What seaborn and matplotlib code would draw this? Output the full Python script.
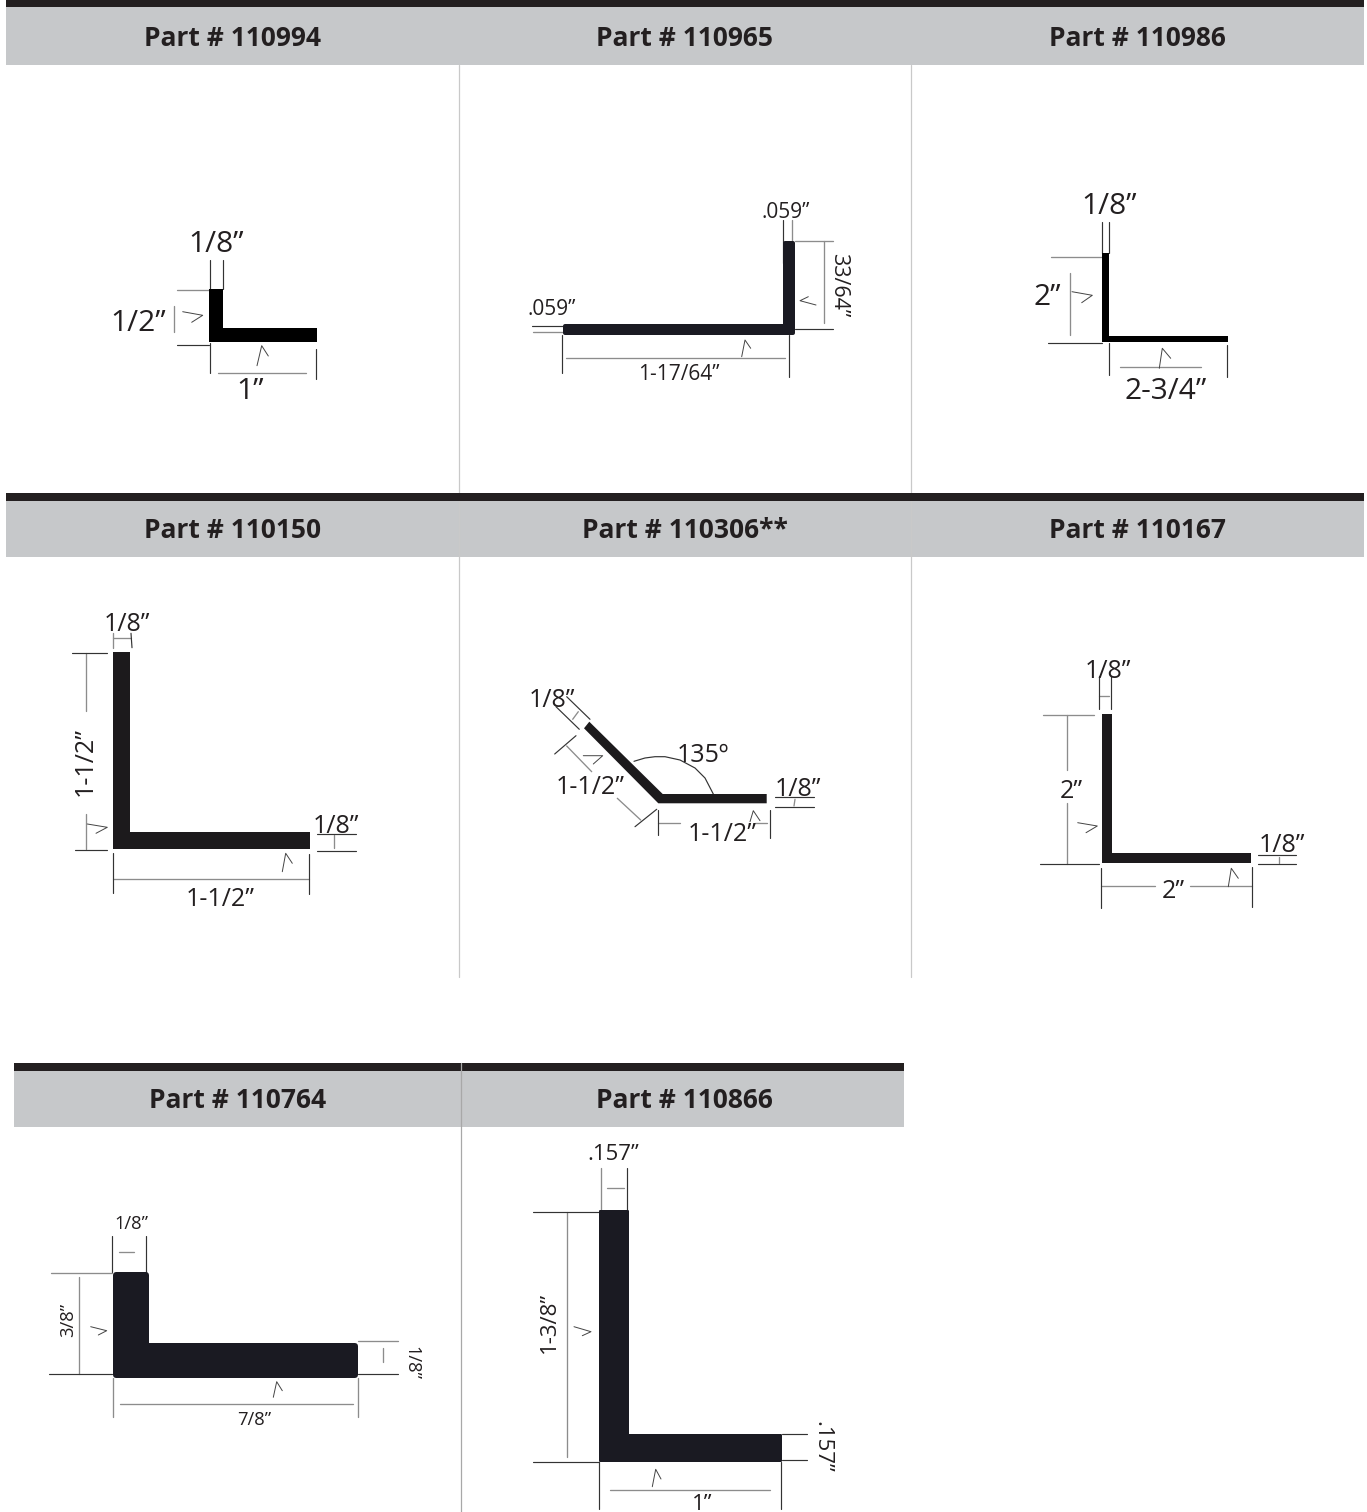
import pandas as pd
import matplotlib
matplotlib.use("Agg")
import matplotlib.pyplot as plt
import seaborn as sns

# ── Header rows ──────────────────────────────────────────
# (part, left, right, text x), per row: bar top, bar bottom, band bottom
ROW_1 = [("Part # 110994", 6, 459, 232.5), ("Part # 110965", 459, 911, 685), ("Part # 110986", 911, 1364, 1137.5)]
ROW_2 = [("Part # 110150", 6, 459, 232.5), ("Part # 110306**", 459, 911, 685), ("Part # 110167", 911, 1364, 1137.5)]
ROW_3 = [("Part # 110764", 14, 460.5, 238), ("Part # 110866", 460.5, 904, 684)]
ROW_LEVELS = [(0, 7, 65), (492.5, 500.5, 556.5), (1062.5, 1070.5, 1127)]
HEADER_TEXT_Y = [35, 527, 1098]
DIVIDERS = [(459, 65, 977), (911, 65, 977), (460.5, 1062.5, 1512)]

# ── Profiles ─────────────────────────────────────────────
PROFILES = {
    "110994": [(209.3, 289.3), (223.3, 289.3), (223.3, 328), (316.7, 328), (316.7, 341.7), (209.3, 341.7)],
    "110986": [(1102.3, 252.7), (1109.3, 252.7), (1109.3, 335.7), (1227.7, 335.7), (1227.7, 342.3), (1102.3, 342.3)],
    "110150": [(113.3, 652.3), (130.3, 652.3), (130.3, 832.3), (310, 832.3), (310, 849), (113.3, 849)],
    "110306": [(589.3, 721.7), (584, 728.3), (658.3, 803.3), (766.7, 803.3), (766.7, 794), (662.7, 794)],
    "110167": [(1102.3, 714), (1112, 714), (1112, 853), (1251.3, 853), (1251.3, 862.7), (1102.3, 862.7)],
}
# these three have rounded corners, outline is inset and stroked
ROUNDED = {
    "110965": [(785, 243.3), (793, 243.3), (793, 333.3), (565.3, 333.3), (565.3, 326), (785, 326)],
    "110764": [(115.7, 1275.3), (145.7, 1275.3), (145.7, 1345.7), (355.3, 1345.7), (355.3, 1375.3), (115.7, 1375.3)],
    "110866": [(600.3, 1211), (627.7, 1211), (627.7, 1434.7), (780.7, 1434.7), (780.7, 1461.3), (600.3, 1461.3)],
}
ROUND_WIDTH = {"110965": 4, "110764": 6, "110866": 2}
DARK_BODY = "#1a1a22"

# ── Dimension lines ──────────────────────────────────────
DARK_SEGMENTS = [
    # 110994
    [(209.7, 260), (209.7, 289)], [(222.7, 260), (222.7, 289)], [(177, 344.7), (209, 344.7)],
    [(209.7, 343), (209.7, 373)], [(316, 349), (316, 379)],
    # 110965
    [(783.3, 220), (783.3, 263)], [(795, 329), (832.7, 329)], [(532.3, 326), (563, 326)],
    [(562, 335), (562, 373.3)], [(789.3, 335), (789.3, 376.7)],
    # 110986
    [(1101.7, 221.7), (1101.7, 252.7)], [(1109, 221.7), (1109, 252.7)], [(1048.3, 343.3), (1102, 343.3)],
    [(1109, 343.3), (1109, 375)], [(1226.7, 345), (1226.7, 376.7)],
    # 110150
    [(131, 633.3), (132, 647.7)], [(72, 652.7), (107.3, 652.7)], [(75, 849.7), (106.7, 849.7)],
    [(317, 834), (355.7, 834)], [(317, 850.7), (355.7, 850.7)],
    [(112.7, 853.3), (112.7, 892.7)], [(309.3, 854), (309.3, 894)],
    # 110306
    [(566.7, 696.7), (590, 719.3)], [(556, 706.7), (579.3, 729.3)], [(554.7, 754), (576, 735.7)],
    [(635, 826.7), (656.7, 809.3)], [(657.7, 810), (657.7, 835)], [(770, 810), (770, 838.3)],
    [(775, 796.7), (814.3, 796.7)], [(775, 806.7), (814.3, 806.7)],
    [(634, 761.3), (645, 758), (655, 756.7), (665, 756.7), (680, 760), (695, 768), (705, 778), (713.3, 794)],
    # 110167
    [(1099.3, 676), (1099.3, 709)], [(1111, 676), (1111, 709)], [(1040, 864.3), (1098.7, 864.3)],
    [(1258.3, 855), (1296, 855)], [(1258.3, 863.7), (1296, 863.7)],
    [(1101.3, 868.3), (1101.3, 907.7)], [(1251.7, 866.7), (1251.7, 906.7)],
    # 110764
    [(112.3, 1236), (112.3, 1272)], [(146, 1236), (146, 1272.7)], [(49.3, 1373.7), (111.7, 1373.7)],
    [(358.3, 1374), (398.3, 1374)],
    # 110866
    [(626.7, 1168.3), (626.7, 1210)], [(532.7, 1212), (599.3, 1212)], [(532.7, 1462.3), (599, 1462.3)],
    [(781.7, 1434.3), (807.3, 1434.3)], [(781.7, 1460), (807.3, 1460)],
    [(599.3, 1462), (599.3, 1509)], [(780.7, 1462), (780.7, 1509)],
]

GREY_SEGMENTS = [
    # 110994
    [(177, 289.7), (209, 289.7)], [(173.7, 306), (173.7, 332)], [(218, 373), (306, 373)],
    # 110965
    [(792, 220), (792, 241)], [(795, 241.3), (832.7, 241.3)], [(823.7, 241.3), (823.7, 323.3)],
    [(533.3, 332), (563, 332)], [(565.7, 358), (785, 358)],
    # 110986
    [(1050.7, 257), (1102, 257)], [(1069.7, 273.3), (1069.7, 335.3)], [(1120, 366.7), (1200.7, 366.7)],
    # 110150
    [(113.3, 633.3), (113.3, 647.7)], [(113.3, 638.3), (131, 638.3)], [(86, 652.7), (86, 711)],
    [(86, 814), (86, 849.3)], [(334, 835), (334, 848.3)], [(112.7, 879.3), (309.3, 879.3)],
    # 110306
    [(572.7, 719.3), (578.3, 711.7)], [(566.7, 746), (591.7, 771.7)], [(617.3, 798.3), (640.7, 820)],
    [(658.3, 822.7), (680, 822.7)], [(755, 822.7), (767.3, 822.7)], [(795, 799.3), (794, 806)],
    # 110167
    [(1099.3, 696), (1109, 696)], [(1043.3, 715), (1094.3, 715)], [(1066.7, 715), (1066.7, 770)],
    [(1066.7, 803.3), (1066.7, 864)], [(1279.3, 856.7), (1279.3, 863.3)],
    [(1101.3, 885.7), (1155, 885.7)], [(1190, 885.7), (1251.7, 885.7)],
    # 110764
    [(119, 1251.7), (134, 1251.7)], [(51, 1272.7), (111.7, 1272.7)], [(79.3, 1277.3), (79.3, 1373.7)],
    [(358.3, 1341), (398.3, 1341)], [(383.3, 1347.7), (383.3, 1362.3)],
    [(112.7, 1378), (112.7, 1416.7)], [(357.7, 1378), (357.7, 1416.7)], [(120, 1404.3), (353.3, 1404.3)],
    # 110866
    [(600.7, 1168.3), (600.7, 1210)], [(607.3, 1188.3), (624, 1188.3)], [(567, 1212), (567, 1457.3)],
    [(610, 1490.3), (770, 1490.3)],
]

# little hand-drawn weld ticks next to the legs
TICKS = [
    [(182.7, 311.7), (202.7, 315.3), (191.7, 322.3)], [(257, 365.7), (261.7, 345.7), (268.3, 356)],
    [(741.7, 356.7), (745, 340), (750.7, 348.3)], [(816, 305), (800, 300.7), (808.3, 296.7)],
    [(1072, 291.7), (1092.3, 295.3), (1081.7, 302.7)], [(1159.3, 368.3), (1162.3, 348.3), (1170.7, 358.3)],
    [(87.3, 824), (107.3, 827.3), (96, 833.3)], [(282.3, 871.7), (285.7, 853.3), (292.3, 863.3)],
    [(583.3, 755.7), (602.7, 755.7), (593.3, 764)], [(750, 821.7), (753.3, 810.7), (760, 820.7)],
    [(1077.7, 822.7), (1097.3, 826), (1086, 832.7)], [(1228.3, 886.7), (1231.3, 868.3), (1238.3, 878.3)],
    [(90.7, 1326.7), (106.7, 1330.7), (98.3, 1335)], [(273.3, 1397.3), (276.7, 1381.7), (282.3, 1390.7)],
    [(574, 1326.7), (591, 1331.7), (582.3, 1335.7)], [(652.3, 1486.7), (655.7, 1469.3), (661, 1479)],
]

# ── Dimension labels: text, x, y, font size, rotation ────
LABELS = [
    ("1/8”", 215.7, 241, 21.5, 0), ("1/2”", 137.7, 320, 21.5, 0), ("1”", 250, 388, 21.5, 0),
    (".059”", 786, 210, 15, 0), (".059”", 551.7, 306.7, 15, 0), ("33/64”", 841, 285, 15.5, 270),
    ("1-17/64”", 679.3, 371.7, 15, 0),
    ("1/8”", 1109, 203, 21.5, 0), ("2”", 1047, 294, 21.5, 0), ("2-3/4”", 1165.7, 388.3, 21.5, 0),
    ("1/8”", 127.3, 621.7, 18, 0), ("1-1/2”", 82.3, 761.7, 18, 90), ("1/8”", 335.7, 823.3, 18, 0),
    ("1-1/2”", 220, 896.7, 18, 0),
    ("1/8”", 552.3, 697.7, 18, 0), ("135º", 703.3, 752.3, 18, 0), ("1-1/2”", 590, 785, 18, 0),
    ("1-1/2”", 721.7, 831.7, 18, 0), ("1/8”", 798.3, 786.7, 18, 0),
    ("1/8”", 1107.7, 668.3, 18, 0), ("2”", 1071.7, 788.3, 18, 0), ("1/8”", 1281.7, 842.7, 18, 0),
    ("2”", 1173.3, 888.3, 18, 0),
    ("1/8”", 131.7, 1221.7, 13.2, 0), ("3/8”", 65.7, 1320, 13.2, 90), ("1/8”", 413.3, 1363.3, 13.2, 270),
    ("7/8”", 254, 1418.3, 13.2, 0),
    (".157”", 613.3, 1151.7, 16, 0), ("1-3/8”", 546.7, 1322.7, 16, 90), (".157”", 824.3, 1446.7, 16, 270),
    ("1”", 701.7, 1501.7, 16, 0),
]

BLACK = "#231f20"
BAND = "#c6c8ca"

sns.set_theme(style="white")
plt.rcParams["font.family"] = ["Open Sans", "DejaVu Sans"]

fig = plt.figure(figsize=(13.67, 15.12), dpi=100)
ax = fig.add_axes([0, 0, 1, 1])


def draw_lines(segments, color, width):
    # one long frame, one unit per segment
    rows = [(i, x, y) for i, seg in enumerate(segments) for x, y in seg]
    df = pd.DataFrame(rows, columns=["seg", "x", "y"])
    sns.lineplot(data=df, x="x", y="y", units="seg", estimator=None, sort=False,
                 color=color, linewidth=width, legend=False, ax=ax)


# dividers under everything else
for x, top, bottom in DIVIDERS[:2]:
    ax.plot([x, x], [top, bottom], color="#c9c9c9", lw=0.9, zorder=1)
ax.plot([DIVIDERS[2][0]] * 2, DIVIDERS[2][1:], color="#a8a8a8", lw=0.9, zorder=3)

# header bands
for row, (bar_top, bar_bottom, band_bottom), text_y in zip([ROW_1, ROW_2, ROW_3], ROW_LEVELS, HEADER_TEXT_Y):
    for part, left, right, text_x in row:
        ax.fill_between([left, right], bar_bottom, band_bottom, color=BAND, lw=0, zorder=0.5)
        ax.fill_between([left, right], bar_top, bar_bottom, color=BLACK, lw=0, zorder=2)
        ax.text(text_x, text_y, part, ha="center", va="center_baseline", rotation_mode="anchor",
                fontsize=19, fontweight="bold", color=BLACK, zorder=3)

draw_lines(GREY_SEGMENTS, "#8c8c8c", 0.95)
draw_lines(DARK_SEGMENTS, "#333333", 0.85)
draw_lines(TICKS, "#444444", 0.7)

for part, pts in PROFILES.items():
    ax.fill(*zip(*pts), color="#000000" if part in ("110994", "110986") else "#1c1a1c", lw=0, zorder=4)
for part, pts in ROUNDED.items():
    ax.fill(*zip(*pts), facecolor=DARK_BODY, edgecolor=DARK_BODY, lw=ROUND_WIDTH[part] * 0.72,
            joinstyle="round", zorder=4)

for text, x, y, size, rotation in LABELS:
    ax.text(x, y, text, ha="center", va="center_baseline", rotation_mode="anchor", fontsize=size,
            rotation=rotation, color=BLACK, zorder=5)

ax.set_xlim(0, 1367)
ax.set_ylim(1512, 0)
ax.axis("off")

fig.savefig("out.png", dpi=100, facecolor="white")
